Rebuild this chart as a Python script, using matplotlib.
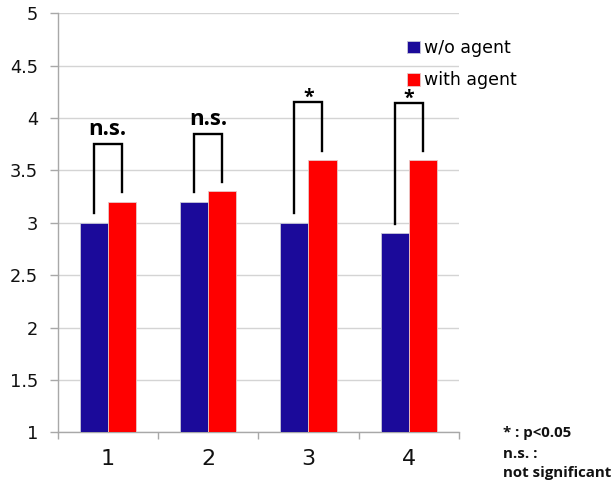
import matplotlib
matplotlib.use("Agg")
import matplotlib.pyplot as plt
import numpy as np

# Mean scores per condition
categories = ["1", "2", "3", "4"]
without_agent = [3.0, 3.2, 3.0, 2.9]
with_agent = [3.2, 3.3, 3.6, 3.6]
series_labels = ["w/o agent", "with agent"]
significance = ["n.s.", "n.s.", "*", "*"]
y_ticks = [1, 1.5, 2, 2.5, 3, 3.5, 4, 4.5, 5]
y_tick_labels = ["1", "1.5", "2", "2.5", "3", "3.5", "4", "4.5", "5"]

# Heights of the comparison brackets above each pair
bracket_top = [3.75, 3.85, 4.15, 4.14]
bracket_gap = 0.09

BLUE = "#1b0a9a"
RED = "#ff0000"

fig = plt.figure(figsize=(6.15, 4.91), dpi=100)
ax = fig.add_axes([0.0935, 0.1195, 0.6528, 0.8534])

x = np.arange(len(categories))
w = 0.28
ax.bar(x - w / 2, without_agent, width=w, bottom=0, color=BLUE,
       edgecolor="#c8c8d8", linewidth=0.6, zorder=3, label=series_labels[0])
ax.bar(x + w / 2, with_agent, width=w, bottom=0, color=RED,
       edgecolor="#e8c8c8", linewidth=0.6, zorder=3, label=series_labels[1])

ax.set_xlim(-0.5, len(categories) - 0.5)
ax.set_ylim(1, 5)

# Axes styling
for side in ("top", "right"):
    ax.spines[side].set_visible(False)
for side in ("left", "bottom"):
    ax.spines[side].set_color("#a8a8a8")
    ax.spines[side].set_linewidth(1.0)

ax.set_yticks(y_ticks)
ax.set_yticklabels(y_tick_labels, fontsize=12.8, family="DejaVu Sans", color="#111111")
ax.tick_params(axis="y", length=6, width=1.0, color="#a8a8a8", pad=8)
ax.grid(axis="y", color="#d4d4d4", linewidth=1.0, zorder=0)

ax.set_xticks(x)
ax.set_xticklabels(categories, fontsize=16, family="DejaVu Sans", color="#111111")
ax.tick_params(axis="x", which="major", length=0, pad=12)
ax.set_xticks(np.arange(len(categories) + 1) - 0.5, minor=True)
ax.tick_params(axis="x", which="minor", length=5, width=1.0, color="#a8a8a8")

# Significance brackets
for i in range(len(categories)):
    xl, xr = x[i] - w / 2, x[i] + w / 2
    top = bracket_top[i]
    ax.plot([xl, xl, xr, xr],
            [without_agent[i] + bracket_gap, top, top, with_agent[i] + bracket_gap],
            color="black", linewidth=1.7, solid_joinstyle="miter", zorder=4)
    if significance[i] == "*":
        ax.text(x[i], top - 0.005, significance[i], ha="center", va="baseline",
                fontsize=14, fontweight="bold", family="Open Sans", zorder=5)
    else:
        ax.text(x[i], top + 0.085, significance[i], ha="center", va="baseline",
                fontsize=16, fontweight="bold", family="Open Sans", zorder=5)

leg = ax.legend(loc="upper left", bbox_to_anchor=(407 / 615, 1 - 39 / 491),
                bbox_transform=fig.transFigure, frameon=False, fontsize=12.5,
                handlelength=0.75, handleheight=0.75, handletextpad=0.25,
                labelspacing=0.82, borderpad=0, borderaxespad=0)

# Footnote
note_kw = dict(fontsize=10.8, fontweight="bold", family="Open Sans", ha="left", va="baseline",
               color="#111111")
fig.text(503 / 615, 1 - 437 / 491, "* : p<0.05", **note_kw)
fig.text(503 / 615, 1 - 458 / 491, "n.s. :", **note_kw)
fig.text(503 / 615, 1 - 477 / 491, "not significant", **note_kw)

fig.savefig("out.png", dpi=100)
